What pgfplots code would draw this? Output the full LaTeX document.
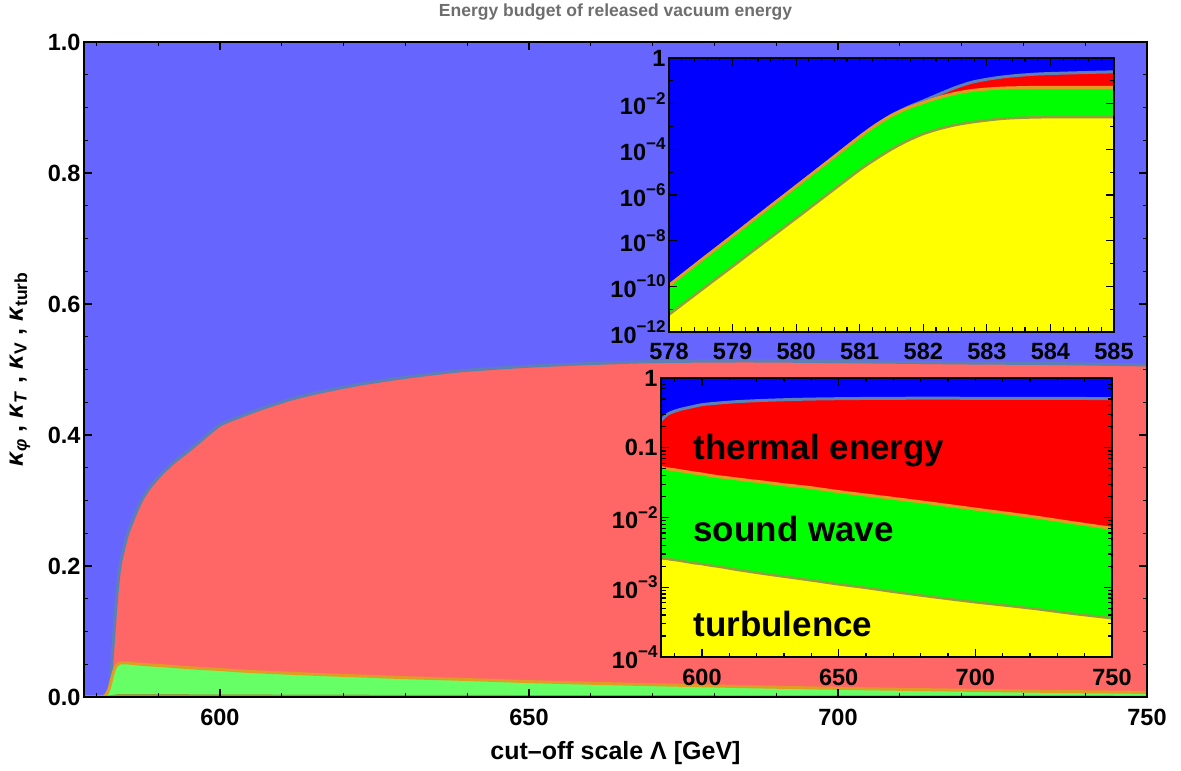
\documentclass[border=0pt]{standalone}
\usepackage{pgfplots}
\pgfplotsset{compat=1.18}
\usepackage{pgfplotstable}
\usepackage{fontspec}
\setmainfont{Liberation Sans}
\definecolor{mblue}{RGB}{102,102,255}
\definecolor{mred}{RGB}{255,102,102}
\definecolor{mgreen}{RGB}{102,255,102}
\definecolor{myellow}{RGB}{255,255,102}
\definecolor{pblue}{RGB}{0,0,255}
\definecolor{pred}{RGB}{255,0,0}
\definecolor{pgreen}{RGB}{0,255,0}
\definecolor{pyellow}{RGB}{255,255,0}
\definecolor{lblue}{RGB}{94,129,181}
\definecolor{lorange}{RGB}{225,156,36}
\definecolor{lolive}{RGB}{143,160,60}
\definecolor{titlegray}{RGB}{110,110,110}
\newcommand{\pw}[1]{10\raisebox{0.45em}{\fontsize{17}{17}\selectfont −#1}}
\pgfplotstableread{
x tot snd turb
578 1.1e-10 1.1e-10 5.75e-12
578.5 1.35e-9 1.35e-9 6.6e-11
579 1.62e-8 1.62e-8 7.4e-10
579.5 2e-7 2e-7 8.5e-9
580 2.4e-6 2.4e-6 9.5e-8
580.5 2.9e-5 2.9e-5 1.1e-6
581 3.6e-4 3.55e-4 1.26e-5
581.25 1.15e-3 1.12e-3 3.7e-5
581.5 3.1e-3 3.0e-3 1e-4
581.75 6.8e-3 6.3e-3 2.35e-4
582 0.0132 0.0112 4.7e-4
582.25 0.026 0.0186 7.8e-4
582.5 0.05 0.0282 1.15e-3
582.75 0.085 0.0372 1.51e-3
583 0.117 0.0437 1.86e-3
583.25 0.148 0.048 2.19e-3
583.5 0.174 0.050 2.4e-3
583.75 0.195 0.0515 2.51e-3
584 0.209 0.0519 2.57e-3
584.5 0.229 0.0522 2.6e-3
585 0.247 0.0522 2.6e-3
586 0.272 0.051 2.58e-3
587.2 0.298 0.050 2.55e-3
588.5 0.318 0.049 2.5e-3
590.4 0.339 0.048 2.45e-3
592.5 0.358 0.0465 2.38e-3
594.7 0.374 0.045 2.3e-3
597 0.392 0.0435 2.22e-3
600 0.415 0.042 2.15e-3
603 0.427 0.040 2.05e-3
607 0.441 0.038 1.95e-3
612 0.456 0.036 1.8e-3
617 0.467 0.034 1.68e-3
623 0.478 0.032 1.55e-3
630 0.488 0.0295 1.42e-3
639 0.498 0.027 1.27e-3
650 0.505 0.0235 1.1e-3
660 0.509 0.021 9.8e-4
670 0.512 0.0188 8.6e-4
685 0.513 0.0158 7.2e-4
700 0.512 0.0132 6.1e-4
720 0.510 0.0104 5e-4
735 0.509 0.0085 4.2e-4
750 0.507 0.0070 3.6e-4
}\data
\pgfplotsset{
  common/.style={
    scale only axis, anchor=south west,
    axis on top,
    axis line style={line width=1.6pt, black},
    tick style={line width=1.2pt, black},
    major tick length=8pt, minor tick length=4.5pt,
    tick align=inside,
    tick label style={font=\fontsize{23.5}{28}\selectfont\bfseries},
    every axis plot/.append style={smooth, tension=0.4},
  },
}
\begin{document}
\begin{tikzpicture}
\path[use as bounding box] (-84pt,-74pt) rectangle (1097pt,697pt);
% main axis
\begin{axis}[common,
  at={(0pt,0pt)}, width=1063pt, height=655pt,
  xmin=578, xmax=750, ymin=0, ymax=1,
  xtick={600,650,700,750}, xticklabels={600,650,700,750},
  xticklabel style={yshift=-9pt},
  minor xtick={580,590,...,740},
  ytick={0,0.2,0.4,0.6,0.8,1}, yticklabels={0.0,0.2,0.4,0.6,0.8,1.0},
  minor ytick={0.05,0.1,...,0.95},
  axis background/.style={fill=mblue},
  title={Energy budget of released vacuum energy},
  title style={at={(axis description cs:0.5,1)}, anchor=center, yshift=24pt,
    font=\fontsize{17.5}{20}\selectfont\bfseries, text=titlegray},
  xlabel={cut–off scale Λ [GeV]},
  xlabel style={at={(axis description cs:0.5,0)}, anchor=center, yshift=-56pt,
    font=\fontsize{25}{30}\selectfont\bfseries},
  ylabel={\textit{κ}\textsubscript{\textit{φ}} , \textit{κ}\textsubscript{\textit{T}} , \textit{κ}\textsubscript{V} , \textit{κ}\textsubscript{turb}},
  ylabel style={at={(axis description cs:0,0.5)}, anchor=center, yshift=64pt,
    font=\fontsize{25}{30}\selectfont\bfseries},
]
\addplot[fill=mred, draw=none] table[x=x,y=tot]{\data} \closedcycle;
\addplot[fill=mgreen, draw=none] table[x=x,y=snd]{\data} \closedcycle;
\addplot[fill=myellow, draw=none] table[x=x,y=turb]{\data} \closedcycle;
\addplot[lblue, line width=3pt] table[x=x,y=tot]{\data};
\addplot[lorange, line width=3pt] table[x=x,y=snd]{\data};
\addplot[lolive, line width=2.5pt] table[x=x,y=turb]{\data};
\end{axis}
% inset 1
\begin{axis}[common,
  at={(585pt,365pt)}, width=445pt, height=274pt,
  ymode=log, xmin=578, xmax=585, ymin=1e-12, ymax=1,
  xtick={578,579,...,585}, xticklabels={578,579,580,581,582,583,584,585},
  xticklabel style={yshift=-8pt},
  minor x tick num=4,
  ytick={1e-12,1e-10,1e-8,1e-6,1e-4,1e-2,1},
  yticklabels={\pw{12},\pw{10},\pw{8},\pw{6},\pw{4},\pw{2},1},
  minor ytick={1e-11,1e-9,1e-7,1e-5,1e-3,1e-1},
  axis background/.style={fill=pblue},
]
\addplot[fill=pred, draw=none] table[x=x,y=tot]{\data} -- (axis cs:750,1e-14) -- (axis cs:578,1e-14) -- cycle;
\addplot[fill=pgreen, draw=none] table[x=x,y=snd]{\data} -- (axis cs:750,1e-14) -- (axis cs:578,1e-14) -- cycle;
\addplot[fill=pyellow, draw=none] table[x=x,y=turb]{\data} -- (axis cs:750,1e-14) -- (axis cs:578,1e-14) -- cycle;
\addplot[lblue, line width=3pt] table[x=x,y=tot]{\data};
\addplot[lorange, line width=3pt] table[x=x,y=snd]{\data};
\addplot[lolive, line width=2.5pt] table[x=x,y=turb]{\data};
\end{axis}
% inset 2
\begin{axis}[common,
  at={(577pt,40pt)}, width=451pt, height=279pt,
  ymode=log, xmin=585, xmax=750, ymin=1e-4, ymax=1,
  xtick={600,650,700,750}, xticklabels={600,650,700,750},
  xticklabel style={yshift=-9pt},
  minor xtick={590,600,...,740},
  ytick={1e-4,1e-3,1e-2,0.1,1},
  yticklabels={\pw{4},\pw{3},\pw{2},0.1,1},
  minor ytick={2e-4,3e-4,4e-4,5e-4,6e-4,7e-4,8e-4,9e-4,2e-3,3e-3,4e-3,5e-3,6e-3,7e-3,8e-3,9e-3,2e-2,3e-2,4e-2,5e-2,6e-2,7e-2,8e-2,9e-2,0.2,0.3,0.4,0.5,0.6,0.7,0.8,0.9},
  axis background/.style={fill=pblue},
]
\addplot[fill=pred, draw=none] table[x=x,y=tot]{\data} -- (axis cs:750,1e-6) -- (axis cs:578,1e-6) -- cycle;
\addplot[fill=pgreen, draw=none] table[x=x,y=snd]{\data} -- (axis cs:750,1e-6) -- (axis cs:578,1e-6) -- cycle;
\addplot[fill=pyellow, draw=none] table[x=x,y=turb]{\data} -- (axis cs:750,1e-6) -- (axis cs:578,1e-6) -- cycle;
\addplot[lblue, line width=3pt] table[x=x,y=tot]{\data};
\addplot[lorange, line width=3pt] table[x=x,y=snd]{\data};
\addplot[lolive, line width=2.5pt] table[x=x,y=turb]{\data};
\node[anchor=base west, font=\fontsize{35}{40}\selectfont\bfseries] at (axis cs:595.6,0.0676) {thermal energy};
\node[anchor=base west, font=\fontsize{35}{40}\selectfont\bfseries] at (axis cs:595.6,0.00447) {sound wave};
\node[anchor=base west, font=\fontsize{35}{40}\selectfont\bfseries] at (axis cs:595.6,1.95e-4) {turbulence};
\end{axis}
\end{tikzpicture}
\end{document}
